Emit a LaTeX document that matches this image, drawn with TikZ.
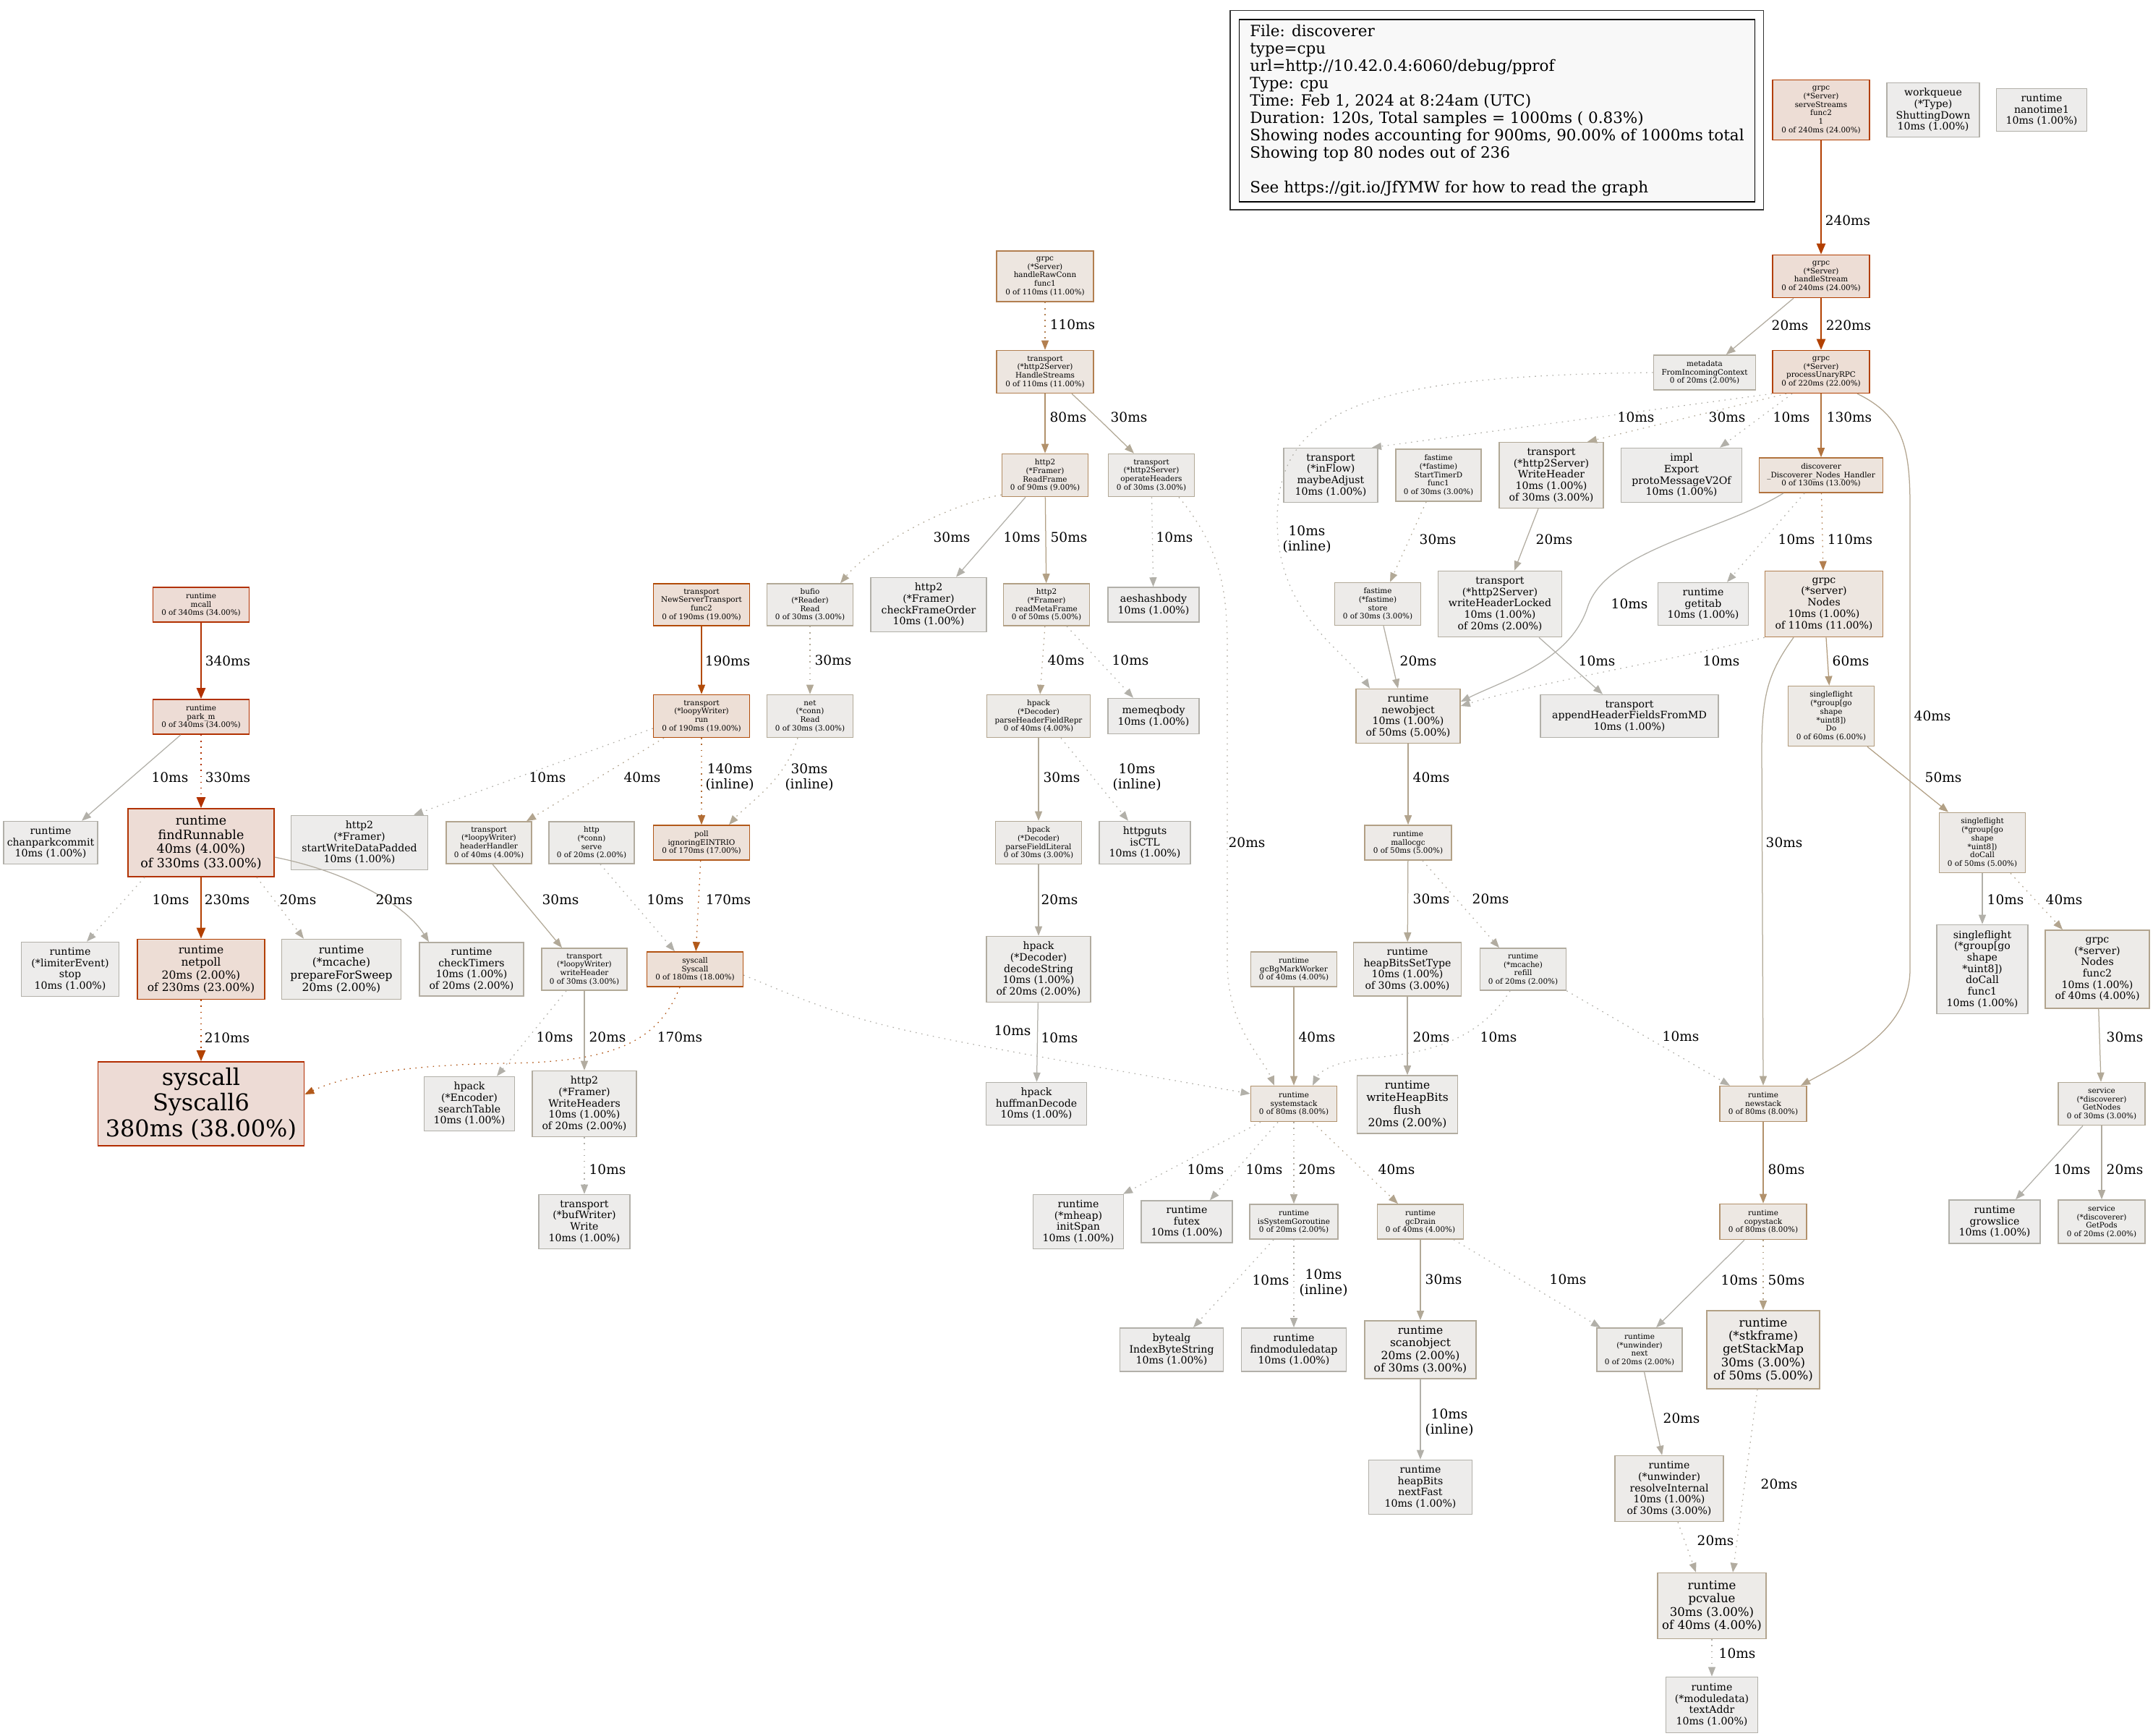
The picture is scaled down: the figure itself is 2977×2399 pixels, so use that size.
\documentclass[tikz,border=0pt]{standalone}
\usepackage{fontspec}
\setmainfont{DejaVu Serif}
\usepackage{xcolor}
\usepackage{tikz}
\usetikzlibrary{arrows.meta,calc}
\definecolor{c01}{HTML}{B2B0A9}
\definecolor{c02}{HTML}{B2ACA0}
\definecolor{c03}{HTML}{B2A997}
\definecolor{c04}{HTML}{B2A48E}
\definecolor{c05}{HTML}{B2A085}
\definecolor{c06}{HTML}{B29B7C}
\definecolor{c08}{HTML}{B2916B}
\definecolor{c09}{HTML}{B28B62}
\definecolor{c11}{HTML}{B27F50}
\definecolor{c13}{HTML}{B2733E}
\definecolor{c14}{HTML}{B26D35}
\definecolor{c17}{HTML}{B2591A}
\definecolor{c18}{HTML}{B25211}
\definecolor{c19}{HTML}{B24B08}
\definecolor{c21}{HTML}{B24200}
\definecolor{c22}{HTML}{B24100}
\definecolor{c23}{HTML}{B23F00}
\definecolor{c24}{HTML}{B23E00}
\definecolor{c33}{HTML}{B23200}
\definecolor{c34}{HTML}{B23100}
\definecolor{c38}{HTML}{B22C00}
\definecolor{b01}{HTML}{EDECEB}
\definecolor{b02}{HTML}{EDECEA}
\definecolor{b03}{HTML}{EDEBE9}
\definecolor{b04}{HTML}{EDEBE8}
\definecolor{b05}{HTML}{EDEAE7}
\definecolor{b06}{HTML}{EDEAE6}
\definecolor{b08}{HTML}{EDE8E3}
\definecolor{b09}{HTML}{EDE7E2}
\definecolor{b11}{HTML}{EDE6E0}
\definecolor{b13}{HTML}{EDE4DD}
\definecolor{b17}{HTML}{EDE1D9}
\definecolor{b18}{HTML}{EDE0D7}
\definecolor{b19}{HTML}{EDDFD6}
\definecolor{b22}{HTML}{EDDED5}
\definecolor{b23}{HTML}{EDDDD5}
\definecolor{b24}{HTML}{EDDDD5}
\definecolor{b33}{HTML}{EDDCD5}
\definecolor{b34}{HTML}{EDDCD5}
\definecolor{b38}{HTML}{EDDBD5}
\definecolor{legendfill}{HTML}{F8F8F8}
\tikzset{
fn/.style={
draw=c#1,
fill=b#1,
rectangle,
align=center,
inner sep=1pt,
line width=1.6pt
},
sz/.style 2 args={
minimum width=#1pt,
minimum height=#2pt
},
t0/.style={font=\fontsize{10.4}{11.8}\selectfont},
t1/.style={font=\fontsize{14.1}{15.7}\selectfont},
t2/.style={font=\fontsize{15.5}{17.2}\selectfont},
t3/.style={font=\fontsize{16.6}{18.4}\selectfont},
t4/.style={font=\fontsize{17.5}{19.5}\selectfont},
tbig/.style={font=\fontsize{31.9}{35.4}\selectfont},
lbl/.style={
font=\fontsize{18.5}{21}\selectfont,
align=center,
inner sep=0pt
},
ed/.style={
draw=c#1,
line width=1.25pt,
-{Triangle[length=13pt,width=10pt]}
},
sl/.style={},
dt/.style={dash pattern=on 1.6pt off 6.5pt},
thk/.style={
line width=2.5pt,
-{Triangle[length=15pt,width=12pt]}
},
tkd/.style={thk,dt},
legendbox/.style={
draw=black,
fill=legendfill,
line width=1.5pt,
align=left,
font=\fontsize{21.5}{24}\selectfont
}
}

\begin{document}
\begin{tikzpicture}[x=1pt,y=-1pt]
\useasboundingbox (0,0) rectangle (2977,2399);
\fill[white] (0,0) rectangle (2977,2399);

\node[legendbox,minimum width=713pt,minimum height=252pt](legend) at (2070,153){File: discoverer\\type=cpu\\url=http://10.42.0.4:6060/debug/pprof\\Type: cpu\\Time: Feb 1, 2024 at 8:24am (UTC)\\Duration: 120s, Total samples = 1000ms ( 0.83\%)\\Showing nodes accounting for 900ms, 90.00\% of 1000ms total\\Showing top 80 nodes out of 236\\[24pt]See https://git.io/JfYMW for how to read the graph};
\draw[line width=1.5pt,draw=black!80]([shift={(-12,-12)}]legend.north west) rectangle ([shift={(11,10)}]legend.south east);

\node[fn=24,t0,sz={134}{83}](ss) at (2518,152){grpc\\(*Server)\\serveStreams\\func2\\1\\0 of 240ms (24.00\%)};
\node[fn=01,t1,sz={128}{75}](wq) at (2673,152){workqueue\\(*Type)\\ShuttingDown\\10ms (1.00\%)};
\node[fn=01,t1,sz={125}{59}](nano) at (2823,152){runtime\\nanotime1\\10ms (1.00\%)};

\node[fn=11,t0,sz={134}{70}](hrc) at (1445,382){grpc\\(*Server)\\handleRawConn\\func1\\0 of 110ms (11.00\%)};
\node[fn=24,t0,sz={134}{59}](hs) at (2518,382){grpc\\(*Server)\\handleStream\\0 of 240ms (24.00\%)};

\node[fn=11,t0,sz={134}{59}](hstreams) at (1445,514){transport\\(*http2Server)\\HandleStreams\\0 of 110ms (11.00\%)};
\node[fn=02,t0,sz={141}{48}](md) at (2357,515){metadata\\FromIncomingContext\\0 of 20ms (2.00\%)};
\node[fn=22,t0,sz={134}{59}](pur) at (2518,514){grpc\\(*Server)\\processUnaryRPC\\0 of 220ms (22.00\%)};

\node[fn=09,t0,sz={119}{59}](readframe) at (1445,657){http2\\(*Framer)\\ReadFrame\\0 of 90ms (9.00\%)};
\node[fn=03,t0,sz={119}{59}](opheaders) at (1592,657){transport\\(*http2Server)\\operateHeaders\\0 of 30ms (3.00\%)};
\node[fn=01,t1,sz={130}{75}](inflow) at (1840,657){transport\\(*inFlow)\\maybeAdjust\\10ms (1.00\%)};
\node[fn=03,t0,sz={118}{72}](stimer) at (1989,657){fastime\\(*fastime)\\StartTimerD\\func1\\0 of 30ms (3.00\%)};
\node[fn=03,t1,sz={144}{91}](wh) at (2145,657){transport\\(*http2Server)\\WriteHeader\\10ms (1.00\%)\\of 30ms (3.00\%)};
\node[fn=01,t1,sz={167}{75}](impl) at (2325,657){impl\\Export\\protoMessageV2Of\\10ms (1.00\%)};
\node[fn=13,t0,sz={171}{48}](disc) at (2518,657){discoverer\\\_Discoverer\_Nodes\_Handler\\0 of 130ms (13.00\%)};

\node[fn=34,t0,sz={133}{48}](mcall) at (278,836){runtime\\mcall\\0 of 340ms (34.00\%)};
\node[fn=19,t0,sz={133}{58}](nsttf2) at (970,836){transport\\NewServerTransport\\func2\\0 of 190ms (19.00\%)};
\node[fn=03,t0,sz={119}{58}](bufio) at (1120,836){bufio\\(*Reader)\\Read\\0 of 30ms (3.00\%)};
\node[fn=01,t1,sz={160}{75}](checkframe) at (1284,836){http2\\(*Framer)\\checkFrameOrder\\10ms (1.00\%)};
\node[fn=05,t0,sz={119}{58}](readmeta) at (1447,836){http2\\(*Framer)\\readMetaFrame\\0 of 50ms (5.00\%)};
\node[fn=01,t1,sz={126}{48}](aeshash) at (1595,836){aeshashbody\\10ms (1.00\%)};
\node[fn=03,t0,sz={119}{59}](store) at (1905,835){fastime\\(*fastime)\\store\\0 of 30ms (3.00\%)};
\node[fn=02,t1,sz={171}{91}](whl) at (2074,835){transport\\(*http2Server)\\writeHeaderLocked\\10ms (1.00\%)\\of 20ms (2.00\%)};
\node[fn=01,t1,sz={125}{59}](getitab) at (2355,835){runtime\\getitab\\10ms (1.00\%)};
\node[fn=11,t1,sz={163}{91}](nodes) at (2522,835){grpc\\(*server)\\Nodes\\10ms (1.00\%)\\of 110ms (11.00\%)};

\node[fn=34,t0,sz={133}{48}](parkm) at (278,991){runtime\\park\_m\\0 of 340ms (34.00\%)};
\node[fn=19,t0,sz={133}{59}](lwrun) at (970,990){transport\\(*loopyWriter)\\run\\0 of 190ms (19.00\%)};
\node[fn=03,t0,sz={119}{59}](net) at (1120,990){net\\(*conn)\\Read\\0 of 30ms (3.00\%)};
\node[fn=04,t0,sz={143}{59}](phfr) at (1436,990){hpack\\(*Decoder)\\parseHeaderFieldRepr\\0 of 40ms (4.00\%)};
\node[fn=01,t1,sz={126}{49}](memeq) at (1595,990){memeqbody\\10ms (1.00\%)};
\node[fn=05,t1,sz={144}{75}](newobj) at (1947,990){runtime\\newobject\\10ms (1.00\%)\\of 50ms (5.00\%)};
\node[fn=01,t1,sz={246}{59}](append) at (2253,990){transport\\appendHeaderFieldsFromMD\\10ms (1.00\%)};
\node[fn=06,t0,sz={119}{83}](sfdo) at (2532,990){singleflight\\(*group[go\\shape\\*uint8])\\Do\\0 of 60ms (6.00\%)};

\node[fn=01,t1,sz={130}{59}](chanpark) at (70,1165){runtime\\chanparkcommit\\10ms (1.00\%)};
\node[fn=33,t4,sz={202}{94}](findrun) at (278,1165){runtime\\findRunnable\\40ms (4.00\%)\\of 330ms (33.00\%)};
\node[fn=01,t1,sz={189}{75}](sws) at (497,1165){http2\\(*Framer)\\startWriteDataPadded\\10ms (1.00\%)};
\node[fn=04,t0,sz={118}{58}](hh) at (676,1165){transport\\(*loopyWriter)\\headerHandler\\0 of 40ms (4.00\%)};
\node[fn=02,t0,sz={118}{58}](httpserve) at (818,1165){http\\(*conn)\\serve\\0 of 20ms (2.00\%)};
\node[fn=17,t0,sz={133}{48}](poll) at (970,1165){poll\\ignoringEINTRIO\\0 of 170ms (17.00\%)};
\node[fn=03,t0,sz={119}{59}](pfl) at (1436,1165){hpack\\(*Decoder)\\parseFieldLiteral\\0 of 30ms (3.00\%)};
\node[fn=01,t1,sz={126}{59}](isctl) at (1583,1165){httpguts\\isCTL\\10ms (1.00\%)};
\node[fn=05,t0,sz={120}{48}](mallocgc) at (1947,1165){runtime\\mallocgc\\0 of 50ms (5.00\%)};
\node[fn=05,t0,sz={119}{83}](sfdocall) at (2741,1165){singleflight\\(*group[go\\shape\\*uint8])\\doCall\\0 of 50ms (5.00\%)};

\node[fn=01,t1,sz={135}{75}](limiter) at (97,1340){runtime\\(*limiterEvent)\\stop\\10ms (1.00\%)};
\node[fn=23,t2,sz={176}{83}](netpoll) at (278,1340){runtime\\netpoll\\20ms (2.00\%)\\of 230ms (23.00\%)};
\node[fn=02,t2,sz={165}{83}](prepare) at (472,1340){runtime\\(*mcache)\\prepareForSweep\\20ms (2.00\%)};
\node[fn=02,t1,sz={144}{74}](checktimers) at (652,1340){runtime\\checkTimers\\10ms (1.00\%)\\of 20ms (2.00\%)};
\node[fn=03,t0,sz={118}{58}](lwwh) at (808,1340){transport\\(*loopyWriter)\\writeHeader\\0 of 30ms (3.00\%)};
\node[fn=18,t0,sz={133}{48}](syscall) at (961,1340){syscall\\Syscall\\0 of 180ms (18.00\%)};
\node[fn=02,t1,sz={144}{91}](decstr) at (1436,1340){hpack\\(*Decoder)\\decodeString\\10ms (1.00\%)\\of 20ms (2.00\%)};
\node[fn=04,t0,sz={119}{48}](gcbg) at (1789,1340){runtime\\gcBgMarkWorker\\0 of 40ms (4.00\%)};
\node[fn=03,t1,sz={149}{74}](hbst) at (1946,1340){runtime\\heapBitsSetType\\10ms (1.00\%)\\of 30ms (3.00\%)};
\node[fn=02,t0,sz={119}{58}](mcrefill) at (2106,1340){runtime\\(*mcache)\\refill\\0 of 20ms (2.00\%)};
\node[fn=01,t1,sz={126}{123}](sfdocallf1) at (2741,1340){singleflight\\(*group[go\\shape\\*uint8])\\doCall\\func1\\10ms (1.00\%)};
\node[fn=04,t1,sz={144}{108}](nodesf2) at (2900,1340){grpc\\(*server)\\Nodes\\func2\\10ms (1.00\%)\\of 40ms (4.00\%)};

\node[fn=38,tbig,sz={285}{116}](syscall6) at (278,1526){syscall\\Syscall6\\380ms (38.00\%)};
\node[fn=01,t1,sz={125}{75}](searchtable) at (649,1526){hpack\\(*Encoder)\\searchTable\\10ms (1.00\%)};
\node[fn=02,t1,sz={144}{91}](writeheaders) at (808,1526){http2\\(*Framer)\\WriteHeaders\\10ms (1.00\%)\\of 20ms (2.00\%)};
\node[fn=01,t1,sz={139}{59}](huffman) at (1433,1526){hpack\\huffmanDecode\\10ms (1.00\%)};
\node[fn=08,t0,sz={119}{49}](sysstack) at (1789,1526){runtime\\systemstack\\0 of 80ms (8.00\%)};
\node[fn=02,t2,sz={139}{80}](whbflush) at (1946,1527){runtime\\writeHeapBits\\flush\\20ms (2.00\%)};
\node[fn=08,t0,sz={120}{49}](newstack) at (2438,1526){runtime\\newstack\\0 of 80ms (8.00\%)};
\node[fn=03,t0,sz={120}{59}](getnodes) at (2906,1526){service\\(*discoverer)\\GetNodes\\0 of 30ms (3.00\%)};

\node[fn=01,t1,sz={126}{75}](bufwriter) at (808,1689){transport\\(*bufWriter)\\Write\\10ms (1.00\%)};
\node[fn=01,t1,sz={125}{75}](mheap) at (1491,1689){runtime\\(*mheap)\\initSpan\\10ms (1.00\%)};
\node[fn=01,t1,sz={126}{58}](futex) at (1641,1689){runtime\\futex\\10ms (1.00\%)};
\node[fn=02,t0,sz={122}{48}](issysg) at (1789,1689){runtime\\isSystemGoroutine\\0 of 20ms (2.00\%)};
\node[fn=04,t0,sz={119}{48}](gcdrain) at (1964,1689){runtime\\gcDrain\\0 of 40ms (4.00\%)};
\node[fn=08,t0,sz={120}{49}](copystack) at (2438,1689){runtime\\copystack\\0 of 80ms (8.00\%)};
\node[fn=01,t1,sz={126}{60}](growslice) at (2758,1689){runtime\\growslice\\10ms (1.00\%)};
\node[fn=02,t0,sz={120}{60}](getpods) at (2906,1689){service\\(*discoverer)\\GetPods\\0 of 20ms (2.00\%)};

\node[fn=01,t1,sz={143}{60}](bytealg) at (1620,1866){bytealg\\IndexByteString\\10ms (1.00\%)};
\node[fn=01,t1,sz={145}{60}](findmod) at (1789,1866){runtime\\findmoduledatap\\10ms (1.00\%)};
\node[fn=03,t2,sz={154}{80}](scanobj) at (1964,1866){runtime\\scanobject\\20ms (2.00\%)\\of 30ms (3.00\%)};
\node[fn=02,t0,sz={118}{60}](unwnext) at (2267,1866){runtime\\(*unwinder)\\next\\0 of 20ms (2.00\%)};
\node[fn=05,t3,sz={156}{108}](getstackmap) at (2438,1866){runtime\\(*stkframe)\\getStackMap\\30ms (3.00\%)\\of 50ms (5.00\%)};

\node[fn=01,t1,sz={143}{75}](heapnext) at (1964,2056){runtime\\heapBits\\nextFast\\10ms (1.00\%)};
\node[fn=03,t1,sz={150}{91}](resolve) at (2308,2058){runtime\\(*unwinder)\\resolveInternal\\10ms (1.00\%)\\of 30ms (3.00\%)};
\node[fn=04,t3,sz={150}{91}](pcvalue) at (2367,2220){runtime\\pcvalue\\30ms (3.00\%)\\of 40ms (4.00\%)};
\node[fn=01,t1,sz={127}{77}](textaddr) at (2367,2357){runtime\\(*moduledata)\\textAddr\\10ms (1.00\%)};

\foreach \na/\nb/\cl/\st/\tx/\lx/\ly in {
ss/hs/24/thk/240ms/2555/305,
hs/pur/22/thk/220ms/2556/450,
pur/disc/13/sl/130ms/2557/577,
disc/nodes/11/dt/110ms/2558/746,
hrc/hstreams/11/dt/110ms/1483/449,
hstreams/readframe/08/sl/80ms/1477/577,
readframe/readmeta/05/sl/50ms/1478/743,
opheaders/aeshash/01/dt/10ms/1624/743,
bufio/net/03/dt/30ms/1152/913,
readmeta/phfr/04/dt/40ms/1474/913,
phfr/pfl/03/sl/30ms/1468/1075,
pfl/decstr/02/sl/20ms/1465/1244,
decstr/huffman/01/sl/10ms/1465/1435,
mcall/parkm/34/thk/340ms/315/914,
parkm/findrun/33/tkd/330ms/315/1075,
findrun/netpoll/23/thk/230ms/314/1244,
netpoll/syscall6/21/tkd/210ms/314/1435,
nsttf2/lwrun/19/sl/190ms/1006/914,
lwrun/poll/14/dt/{140ms\\(inline)}/1009/1075,
poll/syscall/17/dt/170ms/1007/1244,
lwwh/writeheaders/02/sl/20ms/840/1434,
writeheaders/bufwriter/01/dt/10ms/840/1617,
nodes/sfdo/06/sl/60ms/2559/914,
newobj/mallocgc/04/sl/40ms/1979/1075,
mallocgc/hbst/03/sl/30ms/1979/1243,
hbst/whbflush/02/sl/20ms/1979/1434,
gcbg/sysstack/04/sl/40ms/1821/1434,
sysstack/issysg/02/dt/20ms/1821/1617,
issysg/findmod/01/dt/{10ms\\(inline)}/1830/1774,
gcdrain/scanobj/03/sl/30ms/1996/1769,
scanobj/heapnext/01/sl/{10ms\\(inline)}/2004/1967,
sfdocall/sfdocallf1/01/sl/10ms/2773/1244,
nodesf2/getnodes/03/sl/30ms/2938/1434,
getnodes/getpods/02/sl/20ms/2938/1617,
newstack/copystack/08/sl/80ms/2470/1617,
copystack/getstackmap/05/dt/50ms/2470/1770,
unwnext/resolve/02/sl/20ms/2325/1961,
pcvalue/textaddr/01/dt/10ms/2402/2286}
\draw[ed=\cl,\st](\na)--(\nb) node[lbl] at (\lx,\ly){\tx};

\draw[ed=02]([xshift=-38pt]hs.south)--(md) node[lbl] at (2475,450){20ms};
\draw[ed=01,dt](pur.south west)--([xshift=57pt]inflow.north) node[lbl] at (2262,577){10ms};
\draw[ed=03,dt]([xshift=-48pt]pur.south)--([xshift=50pt]wh.north) node[lbl] at (2388,577){30ms};
\draw[ed=01,dt]([xshift=-40pt]pur.south)--([xshift=53pt]impl.north) node[lbl] at (2477,577){10ms};
\draw[ed=04]([xshift=50pt]pur.south) .. controls (2632,575) and (2641,620) .. (2641,700)--(2641,1340) .. controls (2641,1420) and (2565,1460) .. ([xshift=52pt]newstack.north) node[lbl] at (2672,990){40ms};
\draw[ed=01,dt](md.west) .. controls (1900,520) and (1766,560) .. (1766,720) .. controls (1766,850) and (1860,900) .. ([xshift=-53pt]newobj.north) node[lbl] at (1807,746){10ms\\(inline)};
\draw[ed=01,dt]([xshift=-23pt]disc.south)--([xshift=33pt]getitab.north) node[lbl] at (2484,746){10ms};
\draw[ed=01]([xshift=-52pt]disc.south) .. controls (2380,735) and (2220,760) .. (2195,840) .. controls (2170,915) and (2080,940) .. ([yshift=20pt]newobj.east) node[lbl] at (2253,835){10ms};
\draw[ed=03,dt]([xshift=-17pt]stimer.south)--([xshift=17pt]store.north) node[lbl] at (1988,746){30ms};
\draw[ed=02]([xshift=-18pt]wh.south)--([xshift=20pt]whl.north) node[lbl] at (2149,746){20ms};
\draw[ed=02]([xshift=8pt]store.south)--([xshift=-14pt]newobj.north) node[lbl] at (1961,914){20ms};
\draw[ed=01]([xshift=54pt]whl.south)--([xshift=-37pt]append.north) node[lbl] at (2208,914){10ms};
\draw[ed=01,dt](nodes.south west) .. controls (2300,915) and (2120,945) .. ([yshift=14pt]newobj.east) node[lbl] at (2380,914){10ms};
\draw[ed=03]([xshift=-42pt]nodes.south) .. controls (2445,930) and (2436,960) .. (2436,1040)--(newstack.north) node[lbl] at (2467,1165){30ms};
\draw[ed=05]([xshift=50pt]sfdo.south)--([xshift=-47pt]sfdocall.north) node[lbl] at (2687,1075){50ms};
\draw[ed=04,dt]([xshift=39pt]sfdocall.south)--([xshift=-48pt]nodesf2.north) node[lbl] at (2854,1244){40ms};
\draw[ed=01]([xshift=-26pt]getnodes.south)--([xshift=29pt]growslice.north) node[lbl] at (2865,1617){10ms};
\draw[ed=01]([xshift=-26pt]copystack.south)--([xshift=23pt]unwnext.north) node[lbl] at (2405,1770){10ms};
\draw[ed=01,dt](mcrefill.south east)--([xshift=-46pt]newstack.north) node[lbl] at (2324,1433){10ms};
\draw[ed=01,dt]([xshift=46pt]gcdrain.south)--([xshift=-54pt]unwnext.north) node[lbl] at (2168,1769){10ms};
\draw[ed=02,dt]([xshift=-8pt]getstackmap.south)--([xshift=29pt]pcvalue.north) node[lbl] at (2460,2052){20ms};
\draw[ed=02,dt]([xshift=12pt]resolve.south)--([xshift=-22pt]pcvalue.north) node[lbl] at (2372,2130){20ms};

\draw[ed=03]([xshift=37pt]hstreams.south) .. controls (1520,580) .. ([xshift=-24pt]opheaders.north) node[lbl] at (1561,577){30ms};
\draw[ed=03,dt]([yshift=-27pt]readframe.west) .. controls (1300,700) and (1200,760) .. ([xshift=42pt]bufio.north) node[lbl] at (1316,743){30ms};
\draw[ed=01]([xshift=-27pt]readframe.south)--([xshift=38pt]checkframe.north) node[lbl] at (1413,743){10ms};
\draw[ed=02,dt]([xshift=38pt]opheaders.south) .. controls (1690,760) and (1697,820) .. (1697,900)--(1697,1330) .. controls (1697,1420) and (1745,1460) .. ([xshift=-27pt]sysstack.north) node[lbl] at (1724,1165){20ms};
\draw[ed=01,dt]([xshift=28pt]readmeta.south)--([xshift=-28pt]memeq.north) node[lbl] at (1563,913){10ms};
\draw[ed=03,dt]([xshift=-17pt]net.south) .. controls (1085,1080) and (1035,1110) .. ([xshift=38pt]poll.north) node[lbl] at (1119,1075){30ms\\(inline)};
\draw[ed=01,dt]([xshift=31pt]phfr.south)--([xshift=-23pt]isctl.north) node[lbl] at (1572,1075){10ms\\(inline)};
\draw[ed=01]([xshift=-28pt]parkm.south)--([xshift=43pt]chanpark.north) node[lbl] at (235,1075){10ms};
\draw[ed=01,dt]([yshift=-17pt]lwrun.west)--([xshift=75pt]sws.north) node[lbl] at (757,1075){10ms};
\draw[ed=04,dt]([xshift=-52pt]lwrun.south)--([xshift=52pt]hh.north) node[lbl] at (888,1075){40ms};
\draw[ed=01,dt]([xshift=-78pt]findrun.south)--([xshift=23pt]limiter.north) node[lbl] at (236,1244){10ms};
\draw[ed=02,dt]([xshift=77pt]findrun.south)--([xshift=-52pt]prepare.north) node[lbl] at (412,1244){20ms};
\draw[ed=02]([yshift=-20pt]findrun.east) .. controls (480,1205) and (560,1250) .. ([xshift=-59pt]checktimers.north) node[lbl] at (545,1244){20ms};
\draw[ed=03]([xshift=5pt]hh.south)--([xshift=-31pt]lwwh.north) node[lbl] at (775,1244){30ms};
\draw[ed=01,dt]([xshift=12pt]httpserve.south)--([xshift=-28pt]syscall.north) node[lbl] at (920,1244){10ms};
\draw[ed=01,dt]([xshift=-25pt]lwwh.south)--([xshift=38pt]searchtable.north) node[lbl] at (767,1434){10ms};
\draw[ed=17,dt]([xshift=-21pt]syscall.south) .. controls (910,1440) and (850,1468) .. (700,1470) .. controls (550,1472) and (470,1490) .. ([yshift=13pt]syscall6.east) node[lbl] at (940,1434){170ms};
\draw[ed=01,dt]([yshift=-8pt]syscall.east) .. controls (1200,1420) .. ([yshift=14pt]sysstack.west) node[lbl] at (1400,1425){10ms};
\draw[ed=01,dt]([xshift=-18pt]mcrefill.south) .. controls (2050,1430) and (1990,1455) .. (1900,1462) .. controls (1850,1466) and (1825,1480) .. ([xshift=26pt]sysstack.north) node[lbl] at (2072,1434){10ms};
\draw[ed=02,dt]([xshift=20pt]mallocgc.south)--([xshift=-33pt]mcrefill.north) node[lbl] at (2061,1243){20ms};
\draw[ed=01,dt]([xshift=-46pt]sysstack.south)--([xshift=62pt]mheap.north) node[lbl] at (1667,1617){10ms};
\draw[ed=01,dt]([xshift=-22pt]sysstack.south)--([xshift=32pt]futex.north) node[lbl] at (1748,1617){10ms};
\draw[ed=04,dt]([xshift=26pt]sysstack.south)--([xshift=-31pt]gcdrain.north) node[lbl] at (1931,1617){40ms};
\draw[ed=01,dt]([xshift=-28pt]issysg.south)--([xshift=30pt]bytealg.north) node[lbl] at (1757,1770){10ms};
\end{tikzpicture}
\end{document}
